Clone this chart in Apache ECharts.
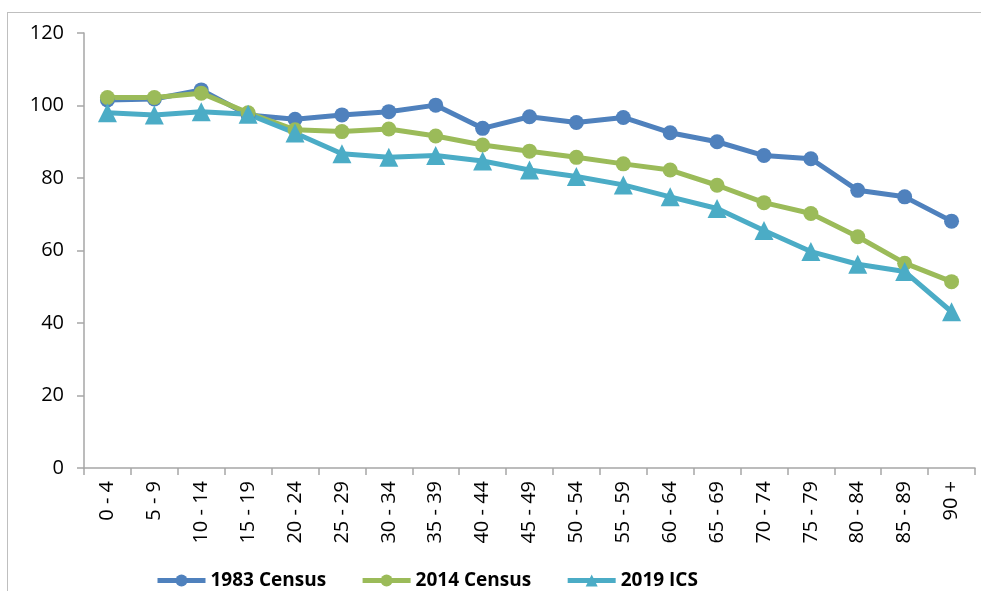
<!DOCTYPE html>
<html>
<head>
<meta charset="utf-8">
<script src="https://cdn.jsdelivr.net/npm/echarts@6/dist/echarts.min.js"></script>
<style>
    html, body { margin: 0; padding: 0; background: #fff; overflow: hidden; }
    #wrap { position: relative; width: 981px; height: 591px; overflow: hidden; }
    #frame { position: absolute; left: 7px; top: 12px; width: 1200px; height: 800px;
             border-left: 1.5px solid #bfbfbf; border-top: 1.5px solid #bfbfbf; }
    #chart { position: absolute; left: 0; top: 0; width: 981px; height: 591px; }
</style>
</head>
<body>
<div id="wrap">
    <div id="frame"></div>
    <div id="chart"></div>
</div>
<script>
// age groups
const ageGroups = ['0 - 4', '5 - 9', '10 - 14', '15 - 19', '20 - 24', '25 - 29', '30 - 34', '35 - 39',
    '40 - 44', '45 - 49', '50 - 54', '55 - 59', '60 - 64', '65 - 69', '70 - 74', '75 - 79',
    '80 - 84', '85 - 89', '90 +'];

// values
const census1983 = [101.5, 101.8, 104.3, 97.4, 96.2, 97.4, 98.3, 100.1, 93.7, 96.9, 95.3, 96.7,
    92.5, 90.0, 86.2, 85.3, 76.6, 74.8, 68.1];
const census2014 = [102.2, 102.2, 103.4, 98.0, 93.3, 92.8, 93.5, 91.6, 89.1, 87.4, 85.7, 83.9,
    82.2, 78.0, 73.2, 70.2, 63.8, 56.5, 51.4];
const ics2019 = [98.0, 97.4, 98.3, 97.6, 92.4, 86.7, 85.7, 86.2, 84.7, 82.2, 80.4, 78.1,
    74.8, 71.6, 65.5, 59.7, 56.2, 54.2, 43.1];

const yTicks = [0, 20, 40, 60, 80, 100, 120];

const font = '"Open Sans", sans-serif';
const axisGrey = '#a6a6a6';

const chart = echarts.init(document.getElementById('chart'));

const makeSeries = (name, data, color, symbol, size) => ({
    name: name,
    type: 'line',
    data: data,
    symbol: symbol,
    symbolSize: size,
    showSymbol: true,
    lineStyle: { color: color, width: 5 },
    itemStyle: { color: color },
    emphasis: { disabled: true },
    animation: false
});

chart.setOption({
    animation: false,
    grid: { left: 84, right: 6, top: 33, bottom: 123 },
    legend: {
        left: 150,
        top: 566,
        itemWidth: 48,
        itemHeight: 15,
        itemGap: 34,
        lineStyle: { width: 5 },
        textStyle: { fontFamily: font, fontSize: 19, fontWeight: 'bold', color: '#000' },
        data: ['1983 Census', '2014 Census', '2019 ICS']
    },
    xAxis: {
        type: 'category',
        data: ageGroups,
        boundaryGap: true,
        axisLine: { lineStyle: { color: axisGrey, width: 1.5 } },
        axisTick: { show: true, length: 7, inside: false, alignWithLabel: false, lineStyle: { color: axisGrey, width: 1.5 } },
        axisLabel: {
            rotate: 90,
            margin: 13,
            interval: 0,
            fontFamily: font,
            fontSize: 20,
            color: '#000'
        }
    },
    yAxis: {
        type: 'value',
        min: yTicks[0],
        max: yTicks[yTicks.length - 1],
        interval: 20,
        splitLine: { show: false },
        axisLine: { show: true, lineStyle: { color: axisGrey, width: 1.5 } },
        axisTick: { show: true, length: 7, lineStyle: { color: axisGrey, width: 1.5 } },
        axisLabel: { margin: 20, fontFamily: font, fontSize: 20, color: '#000' }
    },
    series: [
        makeSeries('1983 Census', census1983, '#4f81bd', 'circle', 15),
        makeSeries('2014 Census', census2014, '#9bbb59', 'circle', 15),
        makeSeries('2019 ICS', ics2019, '#4bacc6', 'triangle', 19)
    ]
});
</script>
</body>
</html>
